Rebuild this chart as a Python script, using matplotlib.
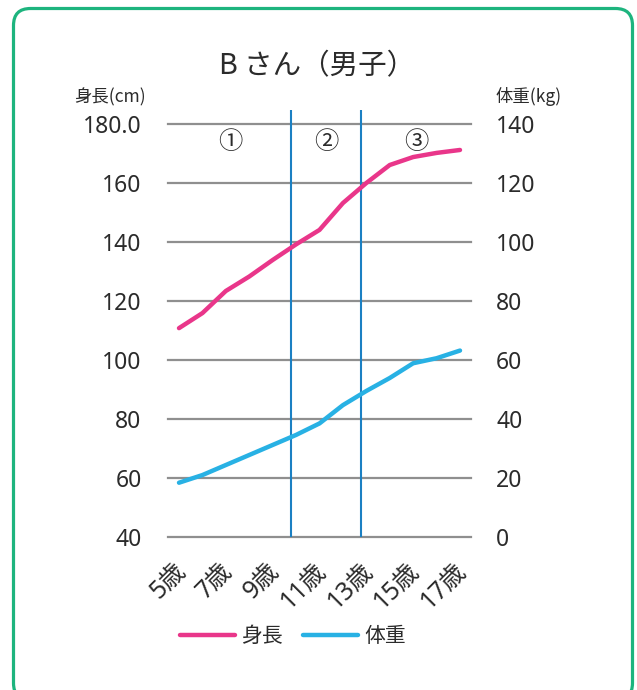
import numpy as np
import matplotlib
matplotlib.use("Agg")
import matplotlib.pyplot as plt
from matplotlib.patches import FancyBboxPatch
from matplotlib.transforms import IdentityTransform, ScaledTranslation

plt.rcParams['font.family'] = ['Noto Sans', 'Noto Sans CJK JP', 'DejaVu Sans']

ages = [5, 6, 7, 8, 9, 10, 11, 12, 13, 14, 15, 16, 17]
height_cm = [110.8, 115.9, 123.4, 128.3, 133.9, 139.2, 144.1, 153.2, 160.0, 166.1, 168.8, 170.2, 171.2]
weight_kg = [18.4, 21.0, 24.4, 27.8, 31.2, 34.6, 38.5, 44.7, 49.5, 53.9, 58.9, 60.6, 63.2]
period_bounds = [9.78, 12.78]
period_labels = ['①', '②', '③']
period_centers = [7.17, 11.3, 15.13]
left_ticks = [40, 60, 80, 100, 120, 140, 160, 180]
left_labels = ['40', '60', '80', '100', '120', '140', '160', '180.0']
right_ticks = [0, 20, 40, 60, 80, 100, 120, 140]
xtick_ages = [5, 7, 9, 11, 13, 15, 17]

pink = '#e9368a'
sky = '#28b1e4'
vline_c = '#1b80c3'
grid_c = '#8f8f8f'
text_c = '#2b2b2b'
cjk = ['Noto Sans CJK JP', 'DejaVu Sans']

fig = plt.figure(figsize=(6.37, 6.90), dpi=100)
ax = fig.add_axes([168 / 637, 1 - 537 / 690, (471 - 168) / 637, (537 - 124) / 690])
ax2 = ax.twinx()

ax.set_xlim(4.53, 17.47)
ax.set_ylim(40, 180)
ax2.set_ylim(0, 140)

for a in (ax, ax2):
    for s in a.spines.values():
        s.set_visible(False)
    a.tick_params(length=0, labelsize=16.5, colors=text_c, pad=19)
ax2.tick_params(pad=18)

for t in left_ticks:
    ax.axhline(t, color=grid_c, lw=1.6, zorder=1, clip_on=False)

ax.set_yticks(left_ticks)
ax.set_yticklabels(left_labels)
ax2.set_yticks(right_ticks)
ax2.set_yticklabels([str(t) for t in right_ticks])

ax.set_xticks(xtick_ages)
ax.set_xticklabels([f'{a}歳' for a in xtick_ages], rotation=45, ha='right',
                   rotation_mode='anchor', fontsize=18, color=text_c)
ax.tick_params(axis='x', pad=15)
# nudge the rotated labels a little to the left, as in the original
shift = ScaledTranslation(-6 / 100, 0, fig.dpi_scale_trans)
for lbl in ax.get_xticklabels():
    lbl.set_transform(lbl.get_transform() + shift)

ax.vlines(period_bounds, 40, 184.7, color=vline_c, lw=1.5, zorder=2, clip_on=False)
for xc, lab in zip(period_centers, period_labels):
    ax.text(xc, 173.9, lab, ha='center', va='center', fontsize=17.5, color=text_c, family=cjk)

l1, = ax.plot(ages, height_cm, color=pink, lw=3.2, solid_capstyle='round', zorder=3, label='身長')
l2, = ax2.plot(ages, weight_kg, color=sky, lw=3.2, solid_capstyle='round', zorder=3, label='体重')

fig.text(317 / 637, 1 - 66 / 690, 'B さん（男子）', ha='center', va='center', fontsize=20.5,
         color=text_c, family=cjk)
fig.text(146 / 637, 1 - 97 / 690, '身長(cm)', ha='right', va='center', fontsize=12.5,
         color=text_c, family=cjk)
fig.text(495 / 637, 1 - 97 / 690, '体重(kg)', ha='left', va='center', fontsize=12.5,
         color=text_c, family=cjk)

fig.legend([l1, l2], ['身長', '体重'], loc='center', bbox_to_anchor=(293 / 637, 1 - 636 / 690),
           ncol=2, frameon=False, handlelength=2.6, handletextpad=0.3,
           columnspacing=1.0, labelcolor=text_c, prop={'family': cjk, 'size': 15})

border = FancyBboxPatch((13.5, -10), 619, 681.5 + 10, boxstyle='round,pad=0,rounding_size=17',
                        transform=IdentityTransform(), fill=False, edgecolor='#1db47e', lw=2.3)
fig.patches.append(border)

fig.savefig('out.png', dpi=100)
